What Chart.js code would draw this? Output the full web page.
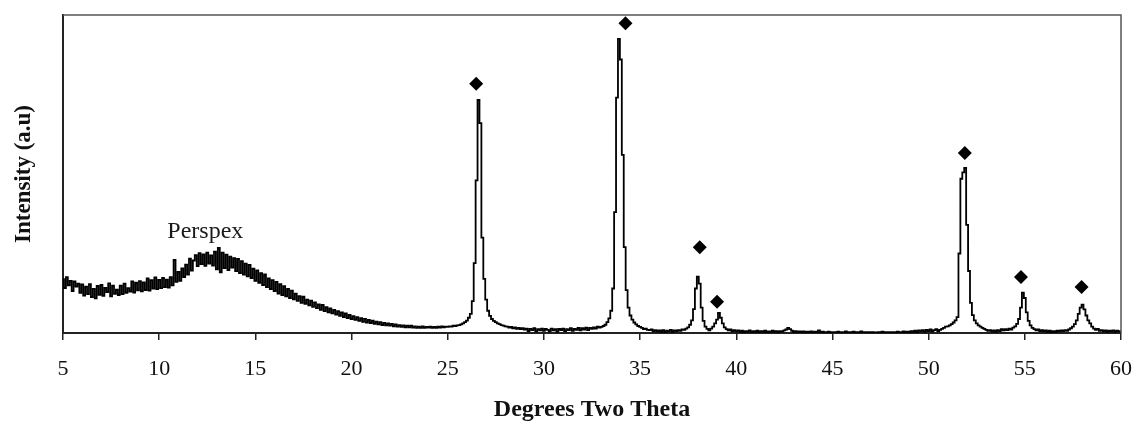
<!DOCTYPE html>
<html>
<head>
<meta charset="utf-8">
<script src="https://cdn.jsdelivr.net/npm/chart.js@4.4.1/dist/chart.umd.min.js"></script>
<style>
    html, body { margin: 0; padding: 0; background: #fff; }
    #xrd-chart { display: block; }
</style>
</head>
<body>
<canvas id="xrd-chart" width="1136" height="424"></canvas>
<script>
const startAngle = 5;
const angleStep = 0.1;

const intensity = [
    16.9, 14.1, 17.6, 15.0, 16.4, 13.2, 16.2, 14.6, 15.5, 12.6,
    15.3, 11.8, 14.6, 12.2, 15.4, 11.3, 13.9, 10.9, 14.8, 12.0,
    15.1, 11.7, 14.2, 12.9, 15.6, 11.5, 14.9, 12.3, 13.6, 11.9,
    14.9, 12.2, 15.5, 12.6, 14.1, 13.0, 16.2, 12.7, 15.8, 13.4,
    16.3, 13.1, 15.9, 13.5, 17.2, 13.3, 16.6, 14.0, 17.5, 13.8,
    16.7, 14.1, 17.3, 14.4, 16.8, 14.3, 17.6, 15.0, 23.0, 16.1,
    19.2, 16.4, 20.3, 17.6, 21.5, 18.4, 23.4, 19.6, 22.8, 24.5,
    21.0, 25.1, 21.7, 24.7, 21.1, 25.3, 21.8, 24.4, 21.2, 25.6,
    20.0, 26.8, 19.1, 25.3, 20.4, 24.6, 19.8, 24.0, 20.6, 23.5,
    19.5, 23.3, 18.8, 22.6, 18.4, 21.8, 17.8, 21.4, 17.3, 20.2,
    16.4, 19.7, 15.8, 18.8, 15.1, 18.4, 14.4, 17.2, 13.8, 16.6,
    13.2, 16.1, 12.4, 15.4, 11.9, 14.7, 11.5, 13.9, 11.0, 13.3,
    10.6, 12.4, 10.1, 11.6, 9.5, 11.4, 9.2, 10.5, 8.7, 10.2,
    8.2, 9.6, 7.8, 9.0, 7.3, 8.8, 6.9, 8.1, 6.5, 7.7,
    6.2, 7.3, 5.8, 6.9, 5.4, 6.5, 5.0, 6.2, 4.7, 5.7,
    4.4, 5.3, 4.1, 5.0, 3.8, 4.7, 3.5, 4.4, 3.3, 4.1,
    3.1, 3.9, 2.9, 3.6, 2.7, 3.4, 2.5, 3.2, 2.4, 3.0,
    2.3, 2.9, 2.1, 2.7, 2.0, 2.5, 1.9, 2.4, 1.8, 2.3,
    1.8, 2.3, 1.7, 2.1, 1.6, 2.0, 1.6, 2.1, 1.6, 1.9,
    1.7, 2.0, 1.6, 1.9, 1.6, 2.0, 1.7, 2.1, 1.8, 2.0,
    1.9, 2.1, 2.0, 2.3, 2.2, 2.4, 2.5, 2.7, 3.0, 3.4,
    3.9, 4.8, 6.0, 10.0, 22.0, 48.0, 73.3, 66.0, 30.0, 17.0,
    10.5, 7.0, 5.4, 4.4, 3.8, 3.4, 3.0, 2.8, 2.5, 2.3,
    2.1, 2.0, 1.7, 1.9, 1.5, 1.8, 1.3, 1.6, 1.2, 1.5,
    1.1, 1.4, 0.6, 1.3, 0.9, 1.5, 0.5, 1.2, 0.8, 1.4,
    0.7, 1.3, 1.0, 0.5, 1.4, 0.8, 1.2, 0.4, 1.3, 0.9,
    1.4, 0.6, 1.2, 0.9, 1.5, 0.7, 1.3, 1.0, 1.6, 0.8,
    1.5, 1.1, 1.7, 0.9, 1.6, 1.3, 1.8, 1.4, 2.0, 1.7,
    1.9, 2.2, 2.6, 3.4, 4.6, 7.0, 14.0, 38.0, 74.0, 92.5,
    86.0, 56.0, 27.0, 13.5, 8.0, 5.5, 4.2, 3.3, 2.7, 2.2,
    1.9, 1.6, 1.2, 1.4, 1.0, 0.9, 1.1, 0.6, 0.9, 0.5,
    0.8, 0.4, 0.9, 0.3, 0.7, 0.5, 1.0, 0.4, 0.8, 0.6,
    0.9, 0.7, 1.1, 1.0, 1.4, 1.8, 2.6, 4.0, 7.5, 14.0,
    17.7, 15.5, 8.0, 3.8, 2.0, 1.3, 0.8, 1.4, 2.0, 3.0,
    4.2, 6.3, 4.8, 3.0, 1.8, 1.2, 0.8, 1.1, 0.6, 0.9,
    0.5, 0.8, 0.4, 0.7, 0.3, 0.6, 0.4, 0.8, 0.3, 0.6,
    0.4, 0.7, 0.3, 0.6, 0.4, 0.7, 0.3, 0.5, 0.4, 0.7,
    0.4, 0.6, 0.3, 0.6, 0.5, 0.8, 1.1, 1.6, 1.2, 0.7,
    0.4, 0.6, 0.2, 0.5, 0.3, 0.5, 0.2, 0.4, 0.3, 0.5,
    0.2, 0.4, 0.3, 0.8, 0.2, 0.4, 0.3, 0.2, 0.4, 0.3,
    0.2, 0.3, 0.2, 0.4, 0.2, 0.3, 0.2, 0.5, 0.2, 0.3,
    0.2, 0.4, 0.2, 0.3, 0.2, 0.5, 0.2, 0.3, 0.2, 0.3,
    0.2, 0.3, 0.2, 0.2, 0.3, 0.2, 0.4, 0.2, 0.3, 0.2,
    0.3, 0.2, 0.3, 0.2, 0.4, 0.2, 0.3, 0.5, 0.2, 0.4,
    0.3, 0.6, 0.4, 0.7, 0.3, 0.8, 0.5, 0.9, 0.4, 1.0,
    0.6, 1.1, 0.5, 0.9, 1.2, 0.6, 1.0, 1.3, 1.6, 2.0,
    2.1, 2.4, 2.8, 3.3, 4.0, 5.0, 25.0, 48.5, 50.5, 51.9,
    34.0, 19.5, 9.5, 5.6, 4.0, 3.0, 2.4, 2.0, 1.6, 1.3,
    1.0, 0.7, 0.9, 0.5, 0.8, 0.4, 0.9, 0.6, 1.2, 0.8,
    1.2, 0.9, 1.4, 1.1, 1.7, 2.1, 2.9, 4.4, 8.0, 12.7,
    11.0, 6.5, 3.8, 2.4, 1.6, 1.2, 0.8, 1.1, 0.6, 0.9,
    0.5, 0.8, 0.4, 0.7, 0.3, 0.6, 0.4, 0.7, 0.5, 0.8,
    0.6, 0.9, 0.7, 1.1, 1.5, 2.0, 2.8, 4.0, 6.0, 8.0,
    8.9, 7.4, 5.5, 4.0, 3.0, 2.0, 1.4, 1.0, 1.3, 0.7,
    0.9, 0.5, 0.8, 0.4, 0.7, 0.5, 0.8, 0.4, 0.7, 0.5,
    0.6
];

// diamond markers sitting above the crystalline peaks
const markerAngles = [26.48, 34.24, 38.1, 39.0, 51.88, 54.8, 57.95];
const markerHeights = [78.4, 97.4, 27.0, 9.8, 56.6, 17.6, 14.5];

const xTicks = [5, 10, 15, 20, 25, 30, 35, 40, 45, 50, 55, 60];

const annotationText = "Perspex";
const annotationAngle = 12.4;
const annotationHeight = 32;

const serif = "'Liberation Serif', 'Times New Roman', serif";

const scanPoints = intensity.map((value, i) => ({ x: startAngle + i * angleStep, y: value }));
const markerPoints = markerAngles.map((angle, i) => ({ x: angle, y: markerHeights[i] }));

const frameAndLabel = {
    id: "frameAndLabel",
    afterDraw(chart) {
        const { ctx, chartArea, scales } = chart;
        ctx.save();
        ctx.strokeStyle = "#555";
        ctx.lineWidth = 1.5;
        ctx.beginPath();
        ctx.moveTo(chartArea.left, chartArea.top);
        ctx.lineTo(chartArea.right, chartArea.top);
        ctx.lineTo(chartArea.right, chartArea.bottom);
        ctx.stroke();

        ctx.fillStyle = "#1a1a1a";
        ctx.font = `24px ${serif}`;
        ctx.textAlign = "center";
        ctx.textBaseline = "middle";
        ctx.fillText(annotationText, scales.x.getPixelForValue(annotationAngle), scales.y.getPixelForValue(annotationHeight));
        ctx.restore();
    },
};

new Chart(document.getElementById("xrd-chart"), {
    type: "line",
    data: {
        datasets: [
            {
                data: scanPoints,
                borderColor: "#000",
                borderWidth: 1.8,
                pointRadius: 0,
                stepped: "middle",
            },
            {
                data: markerPoints,
                showLine: false,
                pointStyle: "rectRot",
                pointRadius: 7,
                backgroundColor: "#000",
                borderColor: "#000",
                borderWidth: 0,
            },
        ],
    },
    options: {
        responsive: false,
        animation: false,
        events: [],
        layout: {
            padding: { left: 0, right: 15, top: 15, bottom: 0 },
        },
        plugins: {
            legend: { display: false },
            tooltip: { enabled: false },
        },
        scales: {
            x: {
                type: "linear",
                min: 5,
                max: 60,
                afterBuildTicks: (scale) => {
                    scale.ticks = xTicks.map((value) => ({ value }));
                },
                afterFit: (scale) => {
                    scale.height = 91;
                    scale.paddingLeft = 0;
                    scale.paddingRight = 0;
                },
                ticks: {
                    color: "#111",
                    font: { family: serif, size: 22 },
                    padding: 16,
                    maxRotation: 0,
                },
                grid: {
                    display: true,
                    drawOnChartArea: false,
                    drawTicks: true,
                    tickLength: 7,
                    color: "#222",
                    lineWidth: 1.5,
                },
                border: { display: true, color: "#222", width: 2 },
                title: {
                    display: true,
                    text: "Degrees Two Theta",
                    color: "#111",
                    font: { family: serif, size: 24, weight: "bold" },
                    padding: { top: 4, bottom: 0 },
                },
            },
            y: {
                min: 0,
                max: 100,
                afterFit: (scale) => {
                    scale.width = 63;
                },
                ticks: { display: false },
                grid: { display: false },
                border: { display: true, color: "#222", width: 2 },
                title: {
                    display: true,
                    text: "Intensity (a.u)",
                    color: "#111",
                    font: { family: serif, size: 23, weight: "bold" },
                    padding: { top: 10, bottom: 0 },
                },
            },
        },
    },
    plugins: [frameAndLabel],
});
</script>
</body>
</html>
